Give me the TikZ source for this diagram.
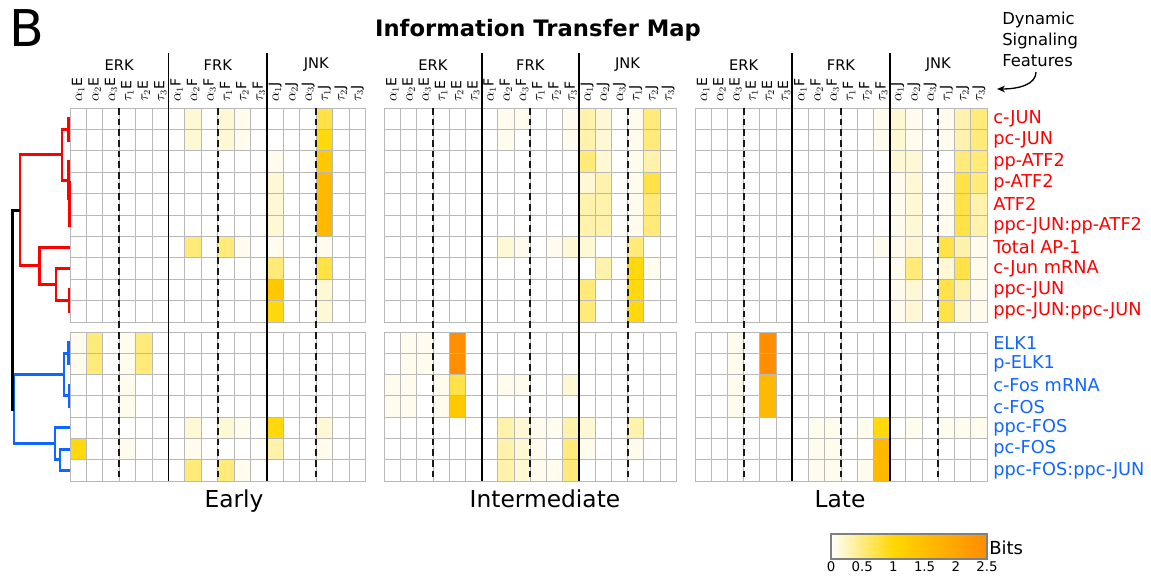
\documentclass[tikz,border=0pt]{standalone}
\usepackage{fontspec}
\setmainfont{DejaVu Sans}
\usepackage{xcolor}
\usepackage{tikz}
\usetikzlibrary{arrows.meta,positioning,calc}

\definecolor{hmgold}{RGB}{255,215,0}
\definecolor{hmorange}{RGB}{255,140,0}
\definecolor{treered}{RGB}{255,0,0}
\definecolor{treeblue}{RGB}{17,102,255}
\definecolor{gridgray}{RGB}{185,185,185}
\colorlet{c0}{white}
\colorlet{c1}{hmgold!7!white}
\colorlet{c2}{hmgold!17!white}
\colorlet{c3}{hmgold!32!white}
\colorlet{c4}{hmgold!52!white}
\colorlet{c5}{hmgold!72!white}
\colorlet{c6}{hmgold!95!white}
\colorlet{c7}{hmorange!20!hmgold}
\colorlet{c8}{hmorange!40!hmgold}
\colorlet{c9}{hmorange!97!hmgold}

\tikzset{
  cell/.style={draw=gridgray,line width=0.7pt},
  featsep/.style={black!90,line width=1.4pt,dash pattern=on 5pt off 3pt},
  kinsep/.style={black,line width=1.4pt},
  collab/.style={rotate=90,anchor=west,inner sep=1pt,font=\fontsize{10.5}{12}\selectfont},
  grplab/.style={inner sep=0pt,font=\fontsize{11}{13}\selectfont},
  ptitle/.style={anchor=base,inner sep=0pt,font=\fontsize{17.5}{20}\selectfont},
  redlab/.style={anchor=west,inner sep=0pt,text=treered,font=\fontsize{13.3}{15}\selectfont},
  bluelab/.style={anchor=west,inner sep=0pt,text=treeblue,font=\fontsize{13.3}{15}\selectfont},
  redtree/.style={treered,line width=2.2pt},
  bluetree/.style={treeblue,line width=2.2pt},
  roottree/.style={black,line width=2.2pt},
  ticklab/.style={inner sep=0pt,font=\fontsize{10}{12}\selectfont},
  arr/.style={-{Stealth[length=6pt,width=5pt]},line width=1pt},
}

% #1 name, #2 left x, #3 cell width, #4 rows of red block, #5 rows of blue block
\newcommand{\hmpanel}[5]{%
  \foreach \vals [count=\r] in {#4}
    \foreach \v [count=\c] in \vals
      \draw[cell,fill=c\v] ({#2+(\c-1)*#3},{108+(\r-1)*21.4}) rectangle ++(#3,21.4);
  \foreach \vals [count=\r] in {#5}
    \foreach \v [count=\c] in \vals
      \draw[cell,fill=c\v] ({#2+(\c-1)*#3},{332+(\r-1)*21.3}) rectangle ++(#3,21.3);
  \foreach \k/\kin [count=\g from 0] in {E/ERK,F/FRK,J/JNK}{
    \node[grplab] (#1-\k) at ({#2+(6*\g+3)*#3},65) {\kin};
    \foreach \f [count=\i] in {\alpha_1,\alpha_2,\alpha_3,\tau_1,\tau_2,\tau_3}
      \node[collab] (#1-\k\i) at ({#2+(6*\g+\i-0.5)*#3},103) {$\f\mathrm{\k}$};
    \draw[featsep] ({#2+(6*\g+3)*#3},108) -- ({#2+(6*\g+3)*#3},481);
  }
  \draw[kinsep] ({#2+6*#3},53) -- ({#2+6*#3},481);
  \draw[kinsep] ({#2+12*#3},53) -- ({#2+12*#3},481);
}

\begin{document}
\begin{tikzpicture}[x=0.75pt,y=-0.75pt]
\useasboundingbox (0,0) rectangle (1151,577);

%% ---------- titles ----------
\node[anchor=base west,inner sep=0pt,font=\fontsize{38}{40}\selectfont] (panelB) at (9,47) {B};
\node[inner sep=0pt,font=\fontsize{17}{20}\selectfont\bfseries] (title) at (538,30)
  {Information Transfer Map};

%% ---------- heat maps ----------
\hmpanel{early}{70}{16.42}{
  {0,0,0,0,0,0, 0,2,0,2,1,0, 0,0,0,5,0,0},
  {0,0,0,0,0,0, 0,2,0,2,1,0, 0,0,0,6,0,0},
  {0,0,0,0,0,0, 0,0,0,0,0,0, 1,0,0,7,0,0},
  {0,0,0,0,0,0, 0,0,0,0,0,0, 2,0,0,8,0,0},
  {0,0,0,0,0,0, 0,0,0,0,0,0, 2,0,0,8,0,0},
  {0,0,0,0,0,0, 0,0,0,0,0,0, 2,0,0,8,0,0},
  {0,0,0,0,0,0, 0,4,0,4,1,0, 1,0,0,1,0,0},
  {0,0,0,0,0,0, 0,0,0,0,0,0, 4,0,0,5,0,0},
  {0,0,0,0,0,0, 0,0,0,0,0,0, 7,0,0,2,0,0},
  {0,0,0,0,0,0, 0,0,0,0,0,0, 6,0,0,2,0,0}}{
  {1,4,0,1,4,0, 0,0,0,0,0,0, 0,0,0,0,0,0},
  {1,4,0,1,4,0, 0,0,0,0,0,0, 0,0,0,0,0,0},
  {0,0,0,1,0,0, 0,0,0,0,0,0, 0,0,0,0,0,0},
  {0,0,0,1,0,0, 0,0,0,0,0,0, 0,0,0,0,0,0},
  {0,0,0,0,0,0, 0,2,0,2,1,0, 6,0,0,2,0,0},
  {6,0,0,1,0,0, 0,1,0,0,0,0, 3,0,0,1,0,0},
  {0,0,0,0,0,0, 0,4,0,4,1,0, 0,0,0,0,0,0}}

\hmpanel{inter}{384.3}{16.22}{
  {0,0,0,0,0,0, 0,1,1,0,0,1, 3,2,0,1,4,0},
  {0,0,0,0,0,0, 0,1,0,0,0,1, 3,2,0,1,4,0},
  {0,0,0,0,0,0, 0,0,0,0,0,0, 4,2,0,1,3,0},
  {0,0,0,0,0,0, 0,0,0,0,0,0, 2,3,0,1,5,0},
  {0,0,0,0,0,0, 0,0,0,0,0,0, 3,3,0,1,4,0},
  {0,0,0,0,0,0, 0,0,0,0,0,0, 3,3,0,1,4,0},
  {0,0,0,0,0,0, 0,2,1,0,1,2, 2,0,0,4,0,0},
  {0,0,0,0,0,0, 0,0,0,0,0,0, 0,3,0,6,1,0},
  {0,0,0,0,0,0, 0,0,0,0,0,0, 4,0,0,6,0,0},
  {0,0,0,0,0,0, 0,0,0,0,0,0, 4,0,0,6,0,0}}{
  {0,1,1,0,9,0, 0,0,0,0,0,0, 0,0,0,0,0,0},
  {0,1,1,0,9,0, 0,0,0,0,0,0, 0,0,0,0,0,0},
  {1,1,0,1,5,0, 0,1,1,0,0,2, 0,0,0,0,0,0},
  {1,1,0,1,7,0, 0,0,0,0,0,0, 0,0,0,0,0,0},
  {0,0,0,0,0,0, 0,3,2,1,1,3, 2,0,0,3,0,0},
  {0,0,0,0,0,0, 0,3,2,1,0,4, 1,0,0,1,0,0},
  {0,0,0,0,0,0, 0,3,2,1,1,4, 0,0,0,0,0,0}}

\hmpanel{late}{695}{16.22}{
  {0,0,0,0,0,0, 0,0,0,0,0,1, 2,1,0,1,3,4},
  {0,0,0,0,0,0, 0,0,0,0,0,1, 2,1,0,1,3,4},
  {0,0,0,0,0,0, 0,0,0,0,0,0, 2,2,0,0,4,4},
  {0,0,0,0,0,0, 0,0,0,0,0,0, 1,2,0,1,5,4},
  {0,0,0,0,0,0, 0,0,0,0,0,0, 1,2,0,1,5,3},
  {0,0,0,0,0,0, 0,0,0,0,0,0, 1,2,0,1,5,3},
  {0,0,0,0,0,0, 0,0,0,0,0,1, 1,2,0,5,3,1},
  {0,0,0,0,0,0, 0,0,0,0,0,0, 1,4,0,2,5,1},
  {0,0,0,0,0,0, 0,0,0,0,0,0, 1,2,0,5,3,1},
  {0,0,0,0,0,0, 0,0,0,0,0,0, 1,2,0,5,2,1}}{
  {0,0,1,0,9,0, 0,0,0,0,0,0, 0,0,0,0,0,0},
  {0,0,1,0,9,0, 0,0,0,0,0,0, 0,0,0,0,0,0},
  {0,0,1,0,8,0, 0,0,0,0,0,0, 0,0,0,0,0,0},
  {0,0,1,0,8,0, 0,0,0,0,0,0, 0,0,0,0,0,0},
  {0,0,0,0,0,0, 0,1,1,0,1,6, 0,1,0,1,1,1},
  {0,0,0,0,0,0, 0,1,1,0,0,8, 0,0,0,0,0,0},
  {0,0,0,0,0,0, 0,1,1,0,1,8, 0,0,0,0,0,0}}

\node[ptitle] (early) at (234,507) {Early};
\node[ptitle] (inter) at (545,507) {Intermediate};
\node[ptitle] (late) at (840,507) {Late};

%% ---------- row labels ----------
\foreach \lab [count=\r] in {c-JUN,pc-JUN,pp-ATF2,p-ATF2,ATF2,ppc-JUN:pp-ATF2,
    Total AP-1,c-Jun mRNA,ppc-JUN,ppc-JUN:ppc-JUN}
  \node[redlab] (red\r) at (993,{108+(\r-0.5)*21.4}) {\lab};
\foreach \lab [count=\r] in {ELK1,p-ELK1,c-Fos mRNA,c-FOS,ppc-FOS,pc-FOS,ppc-FOS:ppc-JUN}
  \node[bluelab] (blue\r) at (993,{332+(\r-0.5)*21.3}) {\lab};

%% ---------- dendrogram ----------
\draw[redtree] (70,118.7) -| (68.5,140.1) -- (70,140.1);
\draw[redtree] (70,204.3) -| (69.8,225.7) -- (70,225.7);
\draw[redtree] (70,182.9) -| (69.5,215) -- (69.8,215);
\draw[redtree] (70,161.5) -| (68.5,199) -- (69.5,199);
\draw[redtree] (68.5,129.4) -| (62,180.3) -- (68.5,180.3);
\draw[redtree] (70,289.9) -| (69,311.3) -- (70,311.3);
\draw[redtree] (70,268.5) -| (56,300.6) -- (69,300.6);
\draw[redtree] (70,247.1) -| (39.5,284.5) -- (56,284.5);
\draw[redtree] (62,154.8) -| (20,265.8) -- (39.5,265.8);

\draw[bluetree] (70,342.65) -| (68.5,363.95) -- (70,363.95);
\draw[bluetree] (70,385.25) -| (69,406.55) -- (70,406.55);
\draw[bluetree] (68.5,353.3) -| (64,395.9) -- (69,395.9);
\draw[bluetree] (70,449.15) -| (60,470.45) -- (70,470.45);
\draw[bluetree] (70,427.85) -| (55,459.8) -- (60,459.8);
\draw[bluetree] (64,374.6) -| (14,443.8) -- (55,443.8);

\draw[roottree] (20,210.3) -| (12.5,409.2) -- (14,409.2);

%% ---------- feature note ----------
\node[align=left,anchor=north west,inner sep=0pt,
      font=\fontsize{12.3}{15.8}\selectfont] (feat) at (1002,12)
  {Dynamic\\Signaling\\Features};
\coordinate (featstart) at (1036,72);
\coordinate (feattip) at (997,89);
\draw[arr] (featstart) .. controls (1036,84) and (1020,89) .. (feattip);

%% ---------- colour bar ----------
\shade[left color=white,right color=hmgold] (831,534) rectangle (893.4,559);
\shade[left color=hmgold,right color=hmorange] (893.4,534) rectangle (987,559);
\draw[gray,line width=0.8pt] (831,534) rectangle (987,559);
\foreach \t/\tl [count=\i] in {0/0,0.5/0.5,1/1,1.5/1.5,2/2,2.5/2.5}
  \node[ticklab] (tick\i) at ({831+62.4*\t},567) {\tl};
\node[anchor=west,inner sep=0pt,font=\fontsize{13.5}{15}\selectfont] (bits) at (989,548) {Bits};
\end{tikzpicture}
\end{document}
